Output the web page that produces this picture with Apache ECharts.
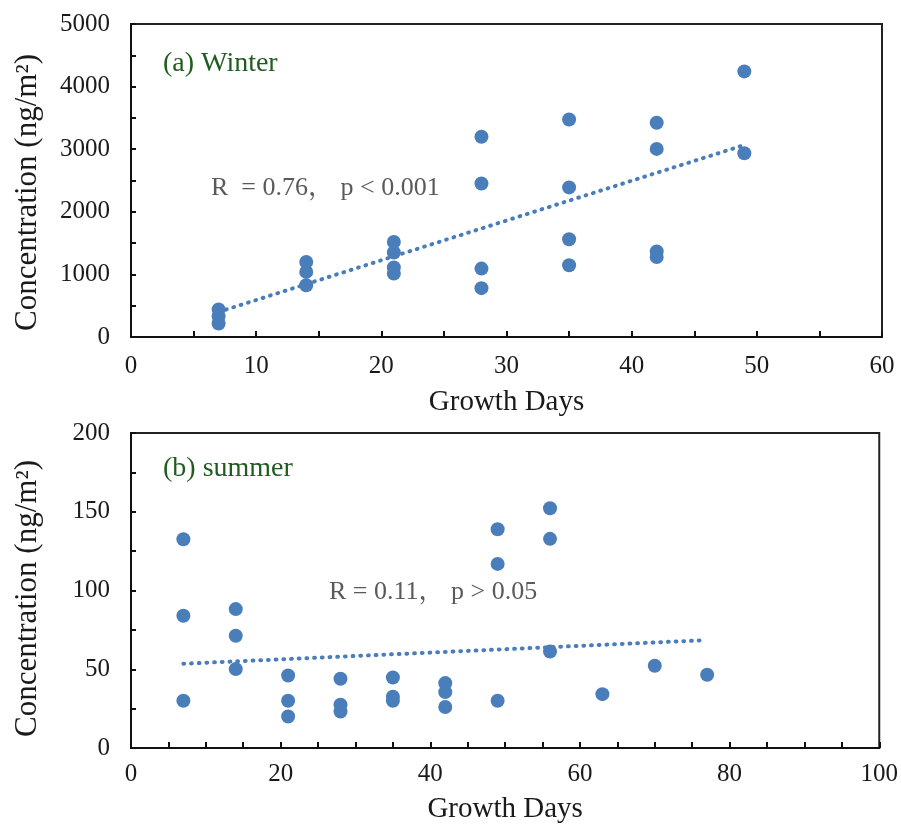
<!DOCTYPE html>
<html>
<head>
<meta charset="utf-8">
<script src="https://cdn.jsdelivr.net/npm/echarts@6/dist/echarts.min.js"></script>
<style>
html,body{margin:0;padding:0;background:#fff;}
#chart{width:901px;height:828px;}
</style>
</head>
<body>
<div id="chart"></div>
<script>
// ---- Data ----
// (a) Winter: growth days and concentration (ng/m2)
const winterDays = [7, 7, 7, 14, 14, 14, 21, 21, 21, 21, 28, 28, 28, 28, 35, 35, 35, 35, 42, 42, 42, 42, 49, 49];
const winterConc = [440, 330, 215, 1200, 1040, 826, 1519, 1349, 1110, 1013, 3198, 2452, 1093, 780, 3475, 2390, 1562, 1146, 3422, 3005, 1365, 1279, 4243, 2935];
const winterTrendDays = [7, 49];
const winterTrendConc = [400, 3067];

// (b) summer
const summerDays = [7, 7, 7, 14, 14, 14, 21, 21, 21, 28, 28, 28, 35, 35, 35, 42, 42, 42, 49, 49, 49, 56, 56, 56, 63, 70, 77];
const summerConc = [132.5, 84, 30, 88.2, 71.3, 50.1, 46, 30, 20, 44, 27.5, 23.2, 44.8, 32.5, 30, 41.2, 35.5, 26, 138.9, 116.9, 30, 152.2, 132.8, 61.3, 34.2, 52.2, 46.5];
const summerTrendDays = [7, 76];
const summerTrendConc = [53.5, 68.3];

// Axis settings / labels
const xNameText = 'Growth Days';
const yNameText = 'Concentration (ng/m\u00B2)';
const panelLabels = ['(a) Winter', '(b) summer'];
const statLabels = ['R  = 0.76\uFF0C p < 0.001', 'R = 0.11\uFF0C p > 0.05'];

// ---- Build ----
const FONT = "'Liberation Serif', 'Times New Roman', 'Noto Serif CJK SC', 'Noto Sans CJK SC', serif";
const BLUE = '#4A7EBB';
const zip = (a, b) => a.map((v, i) => [v, b[i]]);

function xAxis(gridIndex, max, interval, minorSplit, labelMargin, nameGap) {
  return {
    type: 'value', gridIndex, min: 0, max, interval,
    name: xNameText, nameLocation: 'middle', nameGap,
    nameTextStyle: { fontFamily: FONT, fontSize: 29, color: '#1a1a1a' },
    axisLine: { show: true, onZero: false, lineStyle: { color: '#111', width: 2 } },
    axisTick: { show: true, inside: true, length: 6, lineStyle: { color: '#111', width: 2 } },
    minorTick: { show: true, splitNumber: minorSplit, length: 6, lineStyle: { color: '#111', width: 2 } },
    axisLabel: { fontFamily: FONT, fontSize: 25, color: '#1a1a1a', margin: labelMargin, formatter: v => String(v) },
    splitLine: { show: false }, minorSplitLine: { show: false }
  };
}
function yAxis(gridIndex, max, interval, minorSplit, shiftDown) {
  return {
    type: 'value', gridIndex, min: 0, max, interval,
    name: yNameText, nameLocation: 'middle', nameGap: 88,
    nameTextStyle: { fontFamily: FONT, fontSize: 31, color: '#1a1a1a', padding: [0, shiftDown * 2, 0, 0] },
    axisLine: { show: true, lineStyle: { color: '#111', width: 2 } },
    axisTick: { show: true, inside: true, length: 5, lineStyle: { color: '#111', width: 2 } },
    minorTick: { show: true, splitNumber: minorSplit, length: 5, lineStyle: { color: '#111', width: 2 } },
    axisLabel: { fontFamily: FONT, fontSize: 25, color: '#1a1a1a', margin: 21, formatter: v => String(v) },
    splitLine: { show: false }, minorSplitLine: { show: false }
  };
}
function scatter(i, data) {
  return {
    type: 'scatter', xAxisIndex: i, yAxisIndex: i, data,
    symbol: 'circle', symbolSize: 14,
    itemStyle: { color: BLUE, opacity: 1 }, z: 3
  };
}
function trend(i, data) {
  return {
    type: 'line', xAxisIndex: i, yAxisIndex: i, data,
    symbol: 'none', silent: true,
    lineStyle: { color: BLUE, width: 4, type: [0.8, 6.9], cap: 'round' }, z: 2
  };
}

const chart = echarts.init(document.getElementById('chart'), null, { renderer: 'canvas' });
chart.setOption({
  backgroundColor: '#fff',
  animation: false,
  grid: [
    { left: 131, top: 24, width: 751, height: 313, show: true, borderColor: '#222', borderWidth: 2, backgroundColor: 'transparent' },
    { left: 131, top: 433, width: 750, height: 315, show: true, borderColor: '#222', borderWidth: 2, backgroundColor: 'transparent' }
  ],
  xAxis: [ xAxis(0, 60, 10, 2, 17, 51), xAxis(1, 100, 20, 4, 14, 47) ],
  yAxis: [ yAxis(0, 5000, 1000, 2, 12), yAxis(1, 200, 50, 2, 8) ],
  series: [
    trend(0, zip(winterTrendDays, winterTrendConc)),
    scatter(0, zip(winterDays, winterConc)),
    trend(1, zip(summerTrendDays, summerTrendConc)),
    scatter(1, zip(summerDays, summerConc))
  ],
  graphic: [
    { type: 'text', left: 163, top: 50, style: { text: panelLabels[0], font: '28px ' + FONT, fill: '#1f5c1f' } },
    { type: 'text', left: 211, top: 175, style: { text: statLabels[0], font: '26px ' + FONT, fill: '#5a5a5a' } },
    { type: 'text', left: 163, top: 455, style: { text: panelLabels[1], font: '28px ' + FONT, fill: '#1f5c1f' } },
    { type: 'text', left: 329, top: 579, style: { text: statLabels[1], font: '26px ' + FONT, fill: '#5a5a5a' } }
  ]
});
</script>
</body>
</html>
